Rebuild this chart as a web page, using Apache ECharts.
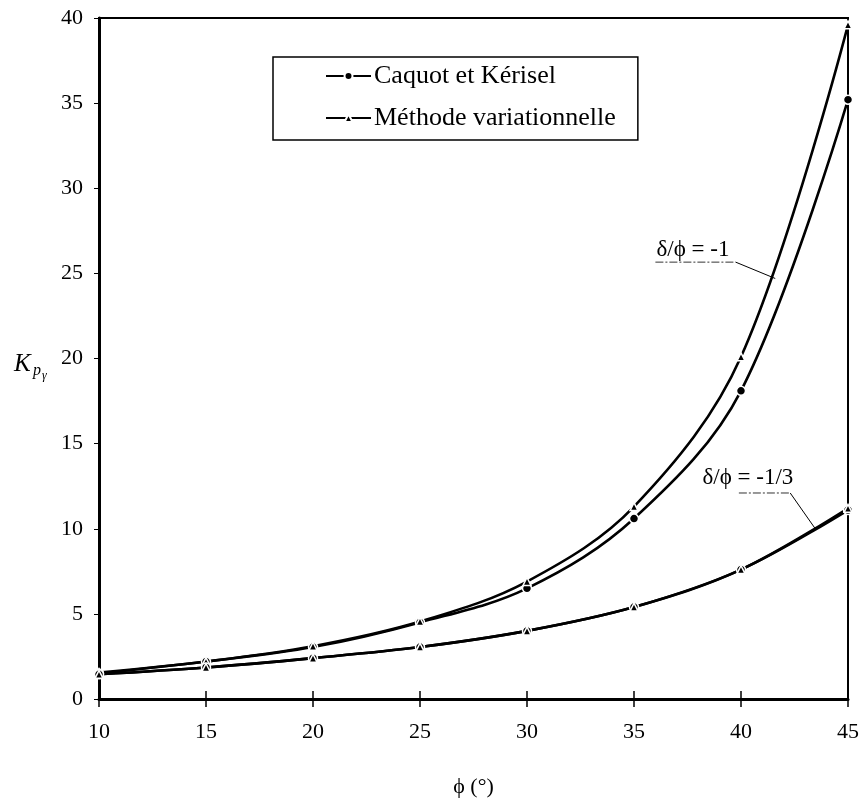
<!DOCTYPE html>
<html>
<head>
<meta charset="utf-8">
<script src="https://cdn.jsdelivr.net/npm/echarts@6/dist/echarts.min.js"></script>
<style>
  html, body { margin: 0; padding: 0; background: #fff; }
  #main { width: 863px; height: 805px; }
</style>
</head>
<body>
<div id="main"></div>
<script>
// angle of friction phi (deg)
var phi = [10, 15, 20, 25, 30, 35, 40, 45];

// delta/phi = -1
var caquotM1 = [1.5, 2.2, 3.05, 4.5, 6.5, 10.6, 18.1, 35.2];
var variaM1  = [1.55, 2.2, 3.1, 4.55, 6.9, 11.3, 20.1, 39.6];

// delta/phi = -1/3
var caquotM3 = [1.45, 1.85, 2.4, 3.05, 4.0, 5.4, 7.6, 11.1];
var variaM3  = [1.45, 1.85, 2.4, 3.05, 4.0, 5.4, 7.6, 11.2];

var FONT = 'Liberation Serif';

function pairs(ys) {
    return phi.map(function (x, i) { return [x, ys[i]]; });
}

function lineSeries(name, ys, symbol, size) {
    return {
        name: name,
        type: 'line',
        data: pairs(ys),
        smooth: 0.35,
        symbol: symbol,
        symbolSize: size,
        showSymbol: true,
        lineStyle: { color: '#000', width: 2.6 },
        itemStyle: { color: '#000', borderColor: '#fff', borderWidth: 1.5 },
        z: 3
    };
}

var myChart = echarts.init(document.getElementById('main'));

var option = {
    animation: false,
    backgroundColor: '#fff',
    grid: {
        left: 99, right: 15, top: 18, bottom: 106,
        show: true,
        borderColor: '#000',
        borderWidth: 2
    },
    legend: {
        left: 273,
        top: 57,
        orient: 'vertical',
        data: ['Caquot et Kérisel', 'Méthode variationnelle'],
        itemWidth: 45,
        itemHeight: 10,
        itemGap: 16,
        padding: [6, 22, 9, 52],
        borderColor: '#000',
        borderWidth: 1.5,
        backgroundColor: '#fff',
        textStyle: { fontFamily: FONT, fontSize: 26, color: '#000', padding: [0, 0, 0, -2] }
    },
    xAxis: [{
        type: 'value',
        min: 10, max: 45, interval: 5,
        name: 'ϕ (°)',
        nameLocation: 'middle',
        nameGap: 77,
        nameTextStyle: { fontFamily: FONT, fontSize: 22, color: '#000' },
        axisLine: { lineStyle: { color: '#000', width: 3 } },
        axisTick: { show: true, length: 8, lineStyle: { color: '#000', width: 1.5 } },
        axisLabel: { margin: 22, fontFamily: FONT, fontSize: 22, color: '#000' },
        splitLine: { show: false }
    }, {
        type: 'value',
        min: 10, max: 45, interval: 5,
        position: 'bottom',
        axisLine: { show: false },
        axisTick: { show: true, inside: true, length: 8, lineStyle: { color: '#000', width: 1.5 } },
        axisLabel: { show: false },
        splitLine: { show: false }
    }],
    yAxis: {
        type: 'value',
        min: 0, max: 40, interval: 5,
        axisLine: { show: true, lineStyle: { color: '#000', width: 3 } },
        axisTick: { show: true, length: 5, lineStyle: { color: '#000', width: 1 } },
        axisLabel: { margin: 16, fontFamily: FONT, fontSize: 22, color: '#000' },
        splitLine: { show: false }
    },
    series: [
        lineSeries('Caquot et Kérisel', caquotM1, 'circle', 9),
        lineSeries('Méthode variationnelle', variaM1, 'triangle', 8),
        lineSeries('Caquot et Kérisel', caquotM3, 'circle', 9),
        lineSeries('Méthode variationnelle', variaM3, 'triangle', 8)
    ]
};

myChart.setOption(option);

// annotation anchors in data space: text pos, underline ends, leader tip
var noteM1 = { text: 'δ/ϕ = -1', at: [36.05, 26.4], ul: [[36.0, 25.66], [39.75, 25.66]], tip: [41.6, 24.7] };
var noteM3 = { text: 'δ/ϕ = -1/3', at: [38.2, 13.0], ul: [[39.9, 12.1], [42.3, 12.1]], tip: [43.5, 9.95] };

function px(p) { return myChart.convertToPixel({ xAxisIndex: 0, yAxisIndex: 0 }, p); }

function noteGraphics(n) {
    var t = px(n.at), a = px(n.ul[0]), b = px(n.ul[1]), c = px(n.tip);
    return [{
        type: 'text',
        x: t[0], y: t[1],
        style: { text: n.text, font: '23px "Liberation Serif"', fill: '#000', textVerticalAlign: 'middle' },
        z: 10
    }, {
        type: 'line',
        shape: { x1: a[0], y1: a[1], x2: b[0], y2: b[1] },
        style: { stroke: '#333', lineWidth: 1, lineDash: [8, 2, 2, 2] },
        z: 10
    }, {
        type: 'line',
        shape: { x1: b[0], y1: b[1], x2: c[0], y2: c[1] },
        style: { stroke: '#000', lineWidth: 1 },
        z: 10
    }];
}

myChart.setOption({
    graphic: noteGraphics(noteM1).concat(noteGraphics(noteM3)).concat([{
        type: 'group',
        left: 14, top: 352,
        children: [
            { type: 'text', x: 0, y: 0, style: { text: 'K', font: 'italic 25px "Liberation Serif"', fill: '#000' } },
            { type: 'text', x: 19, y: 11, style: { text: 'p', font: 'italic 16px "Liberation Serif"', fill: '#000' } },
            { type: 'text', x: 28, y: 18, style: { text: 'γ', font: 'italic 12px "Liberation Serif"', fill: '#000' } }
        ]
    }])
});
</script>
</body>
</html>
